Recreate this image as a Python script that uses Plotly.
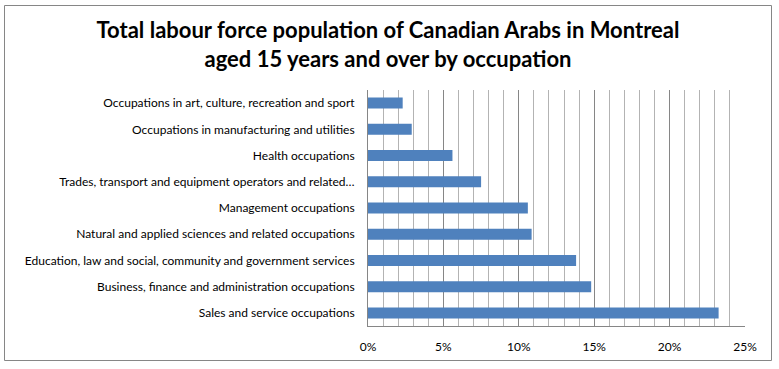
import plotly.graph_objects as go

categories = [
    "Occupations in art, culture, recreation and sport",
    "Occupations in manufacturing and utilities",
    "Health occupations",
    "Trades, transport and equipment operators and related…",
    "Management occupations",
    "Natural and applied sciences and related occupations",
    "Education, law and social, community and government services",
    "Business, finance and administration occupations",
    "Sales and service occupations",
]
values = [0.023, 0.029, 0.056, 0.075, 0.106, 0.1085, 0.138, 0.148, 0.2325]
tick_vals = [0, 0.05, 0.10, 0.15, 0.20, 0.25]
tick_text = ["0%", "5%", "10%", "15%", "20%", "25%"]

W, H = 779, 369
L, R, T, B = 368, 745, 90, 326

fig = go.Figure()
fig.add_trace(go.Bar(
    x=values, y=categories, orientation="h",
    marker=dict(color="#4f81bd", line=dict(width=0)),
    width=0.42,
))

def px_x(p):
    return (p - L) / (R - L)

def px_y(p):
    return (B - p) / (B - T)

fig.add_shape(type="rect", xref="paper", yref="paper",
              x0=px_x(4.5), x1=px_x(771.5), y0=px_y(360.5), y1=px_y(5.5),
              line=dict(color="#868686", width=1), fillcolor="rgba(0,0,0,0)", layer="below")

fig.update_layout(
    width=W, height=H,
    margin=dict(l=L, r=W - R, t=T, b=H - B, pad=0),
    paper_bgcolor="white", plot_bgcolor="white",
    showlegend=False,
    font=dict(family="Lato, Open Sans, sans-serif", size=12, color="#000000"),
    title=dict(
        text="<b>Total labour force population of Canadian Arabs in Montreal<br>aged 15 years and over by occupation</b>",
        x=px_x(388), xanchor="center", xref="paper",
        y=1 - 38 / H, yanchor="middle",
        font=dict(family="Lato, Open Sans, sans-serif", size=22, color="#000000"),
    ),
)
fig.update_xaxes(
    range=[0, 0.25], tickvals=tick_vals, ticktext=tick_text,
    showgrid=True, gridcolor="#868686", gridwidth=1,
    minor=dict(dtick=0.01, showgrid=True, gridcolor="#b3b3b3", gridwidth=1, ticks=""),
    showline=True, linecolor="#868686", linewidth=1,
    zeroline=False, ticks="", ticklabelstandoff=10,
    tickfont=dict(size=12),
    fixedrange=True,
)
fig.update_yaxes(
    autorange="reversed", showline=True, linecolor="#868686", linewidth=1,
    showgrid=False, ticks="", ticklabelstandoff=10,
    tickfont=dict(size=12), fixedrange=True,
)

fig.write_html("out.html", config={"displayModeBar": False},
               post_script="document.body.style.margin='0';document.body.style.padding='0';")
